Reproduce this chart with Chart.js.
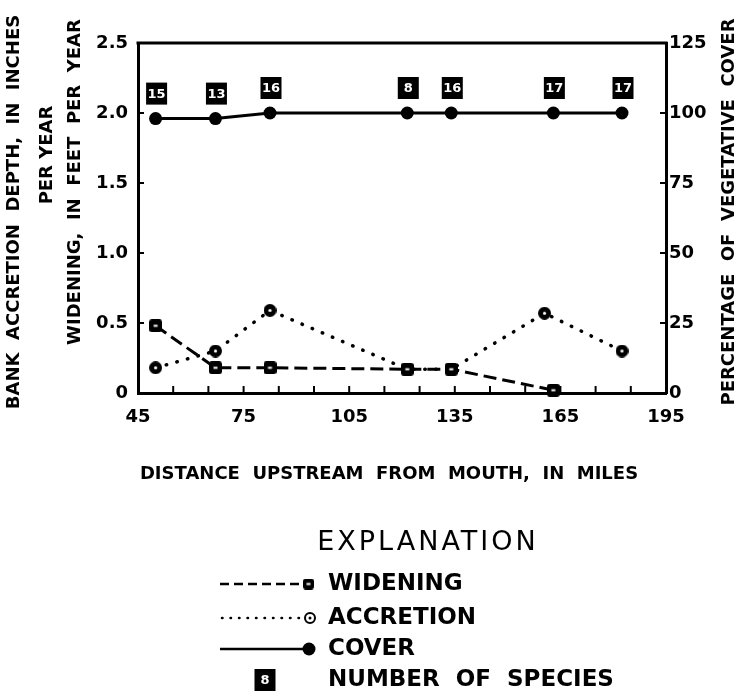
<!DOCTYPE html>
<html>
<head>
<meta charset="utf-8">
<script src="https://cdn.jsdelivr.net/npm/chart.js@4.4.1/dist/chart.umd.min.js"></script>
<style>
  html, body { margin: 0; padding: 0; background: #fff; }
  #wrap { width: 743px; height: 695px; position: relative; }
</style>
</head>
<body>
<div id="wrap"><canvas id="chart"></canvas></div>
<script>
// distance upstream, miles
var miles = [50, 67, 82.5, 121.5, 134, 163, 182.5];
var accretionMiles = [50, 67, 82.5, 121.5, 134, 160.5, 182.5];
var widening = [0.48, 0.18, 0.18, 0.17, 0.17, 0.02, null];
var accretion = [0.18, 0.30, 0.59, 0.17, 0.17, 0.57, 0.30];
var cover = [98, 98, 100, 100, 100, 100, 100];
var species = [15, 13, 16, 8, 16, 17, 17];
var xLabels = [45, 75, 105, 135, 165, 195];

var FONT = "DejaVu Sans";

function pairs(xs, vals) {
  var out = [];
  for (var i = 0; i < xs.length; i++) {
    if (vals[i] !== null) out.push({ x: xs[i], y: vals[i] });
  }
  return out;
}

// marker images
function squareMark(size) {
  var c = document.createElement("canvas");
  c.width = size; c.height = size;
  var g = c.getContext("2d");
  g.fillStyle = "#000";
  g.beginPath();
  g.roundRect(0, 0, size, size, 3);
  g.fill();
  g.fillStyle = "#fff";
  g.fillRect(size / 2 - 2, size / 2 - 1, 4, 2);
  return c;
}
function ringMark(size) {
  var c = document.createElement("canvas");
  c.width = size; c.height = size;
  var g = c.getContext("2d");
  g.fillStyle = "#000";
  g.beginPath();
  g.arc(size / 2, size / 2, size / 2, 0, Math.PI * 2);
  g.fill();
  g.fillStyle = "#fff";
  g.beginPath();
  g.arc(size / 2, size / 2, 1.6, 0, Math.PI * 2);
  g.fill();
  return c;
}
var sqImg = squareMark(13);
var ringImg = ringMark(13);

function vText(ctx, text, x, y) {
  ctx.save();
  ctx.translate(x, y);
  ctx.rotate(-Math.PI / 2);
  ctx.fillText(text, 0, 0);
  ctx.restore();
}

function speciesBox(ctx, n, cx, cy) {
  ctx.fillStyle = "#000";
  ctx.fillRect(cx - 10.5, cy - 11, 21, 22);
  ctx.fillStyle = "#fff";
  ctx.font = "bold 13px " + FONT;
  ctx.textAlign = "center";
  ctx.textBaseline = "middle";
  ctx.fillText(String(n), cx, cy + 1);
}

var extras = {
  id: "extras",
  afterDraw: function (chart) {
    var ctx = chart.ctx;
    var a = chart.chartArea;
    var sx = chart.scales.x, sy = chart.scales.y, sr = chart.scales.y1;
    ctx.save();
    ctx.strokeStyle = "#000";
    ctx.fillStyle = "#000";

    // top frame line
    ctx.lineWidth = 3;
    ctx.beginPath();
    ctx.moveTo(a.left - 1.5, a.top);
    ctx.lineTo(a.right + 1.5, a.top);
    ctx.stroke();

    // inward ticks
    ctx.lineWidth = 2;
    ctx.beginPath();
    sx.ticks.forEach(function (t) {
      if (t.value <= 45 || t.value >= 195) return;
      var px = sx.getPixelForValue(t.value);
      ctx.moveTo(px, a.bottom);
      ctx.lineTo(px, a.bottom - 7);
    });
    sy.ticks.forEach(function (t) {
      if (t.value <= 0 || t.value >= 2.5) return;
      var py = sy.getPixelForValue(t.value);
      ctx.moveTo(a.left, py);
      ctx.lineTo(a.left + 6, py);
    });
    sr.ticks.forEach(function (t) {
      if (t.value <= 0 || t.value >= 125) return;
      var py = sr.getPixelForValue(t.value);
      ctx.moveTo(a.right, py);
      ctx.lineTo(a.right - 6, py);
    });
    ctx.stroke();

    // number of species boxes above the cover points
    for (var i = 0; i < miles.length; i++) {
      var px = sx.getPixelForValue(miles[i]);
      var py = sr.getPixelForValue(cover[i]);
      speciesBox(ctx, species[i], px + 1, py - 25);
    }

    // axis titles
    ctx.fillStyle = "#000";
    ctx.font = "bold 18px " + FONT;
    ctx.textAlign = "center";
    ctx.textBaseline = "middle";
    vText(ctx, "BANK  ACCRETION  DEPTH,  IN  INCHES", 14, 212);
    vText(ctx, "PER YEAR", 47, 155);
    vText(ctx, "WIDENING,  IN  FEET  PER  YEAR", 75, 182);
    vText(ctx, "PERCENTAGE  OF  VEGETATIVE  COVER", 729, 212);
    ctx.fillText("DISTANCE  UPSTREAM  FROM  MOUTH,  IN  MILES", 389, 474);

    // explanation
    ctx.font = "27px " + FONT;
    ctx.letterSpacing = "3px";
    ctx.fillText("EXPLANATION", 428, 543);
    ctx.letterSpacing = "0px";

    ctx.textAlign = "left";
    ctx.font = "bold 23px " + FONT;
    var rows = [584, 618, 649, 680];
    ctx.fillText("WIDENING", 328, rows[0]);
    ctx.fillText("ACCRETION", 328, rows[1]);
    ctx.fillText("COVER", 328, rows[2]);
    ctx.fillText("NUMBER  OF  SPECIES", 328, rows[3]);

    ctx.lineWidth = 2.5;
    ctx.setLineDash([9, 5]);
    ctx.beginPath();
    ctx.moveTo(220, rows[0]);
    ctx.lineTo(304, rows[0]);
    ctx.stroke();
    ctx.drawImage(squareMark(11), 303, rows[0] - 5.5);

    ctx.lineCap = "round";
    ctx.setLineDash([0.5, 8]);
    ctx.beginPath();
    ctx.moveTo(222, rows[1]);
    ctx.lineTo(300, rows[1]);
    ctx.stroke();
    ctx.setLineDash([]);
    ctx.lineCap = "butt";
    ctx.lineWidth = 2;
    ctx.beginPath();
    ctx.arc(310, rows[1], 5, 0, Math.PI * 2);
    ctx.stroke();
    ctx.beginPath();
    ctx.arc(310, rows[1], 1.5, 0, Math.PI * 2);
    ctx.fill();

    ctx.lineWidth = 2.5;
    ctx.beginPath();
    ctx.moveTo(220, rows[2]);
    ctx.lineTo(304, rows[2]);
    ctx.stroke();
    ctx.beginPath();
    ctx.arc(309, rows[2], 6.5, 0, Math.PI * 2);
    ctx.fill();

    speciesBox(ctx, 8, 265, rows[3]);
    ctx.restore();
  }
};

var tickFont = { family: FONT, weight: "bold", size: 18 };

var ctx = document.getElementById("chart").getContext("2d");
new Chart(ctx, {
  type: "line",
  data: {
    datasets: [
      {
        label: "Widening",
        data: pairs(miles, widening),
        yAxisID: "y",
        borderColor: "#000",
        borderWidth: 3,
        borderDash: [13, 6],
        pointStyle: sqImg,
        pointRadius: 6,
        clip: false
      },
      {
        label: "Accretion",
        data: pairs(accretionMiles, accretion),
        yAxisID: "y",
        borderColor: "#000",
        borderWidth: 3.5,
        borderDash: [0.5, 10.5],
        borderCapStyle: "round",
        pointStyle: ringImg,
        pointRadius: 6,
        clip: false
      },
      {
        label: "Cover",
        data: pairs(miles, cover),
        yAxisID: "y1",
        borderColor: "#000",
        backgroundColor: "#000",
        borderWidth: 3,
        pointStyle: "circle",
        pointRadius: 6.5,
        pointBorderWidth: 0,
        pointBackgroundColor: "#000",
        clip: false
      }
    ]
  },
  options: {
    responsive: true,
    maintainAspectRatio: false,
    animation: false,
    layout: { padding: { top: 43, left: 0, right: 0, bottom: 0 } },
    plugins: {
      legend: { display: false },
      tooltip: { enabled: false }
    },
    scales: {
      x: {
        type: "linear",
        min: 45,
        max: 195,
        afterBuildTicks: function (s) {
          var t = [];
          for (var v = 45; v <= 195; v += 10) t.push({ value: v });
          s.ticks = t;
        },
        afterFit: function (s) { s.height = 695 - 393; },
        ticks: {
          autoSkip: false,
          maxRotation: 0,
          padding: 14,
          color: "#000",
          font: tickFont,
          callback: function (v) { return xLabels.indexOf(v) >= 0 ? String(v) : ""; }
        },
        grid: { drawOnChartArea: false, drawTicks: false },
        border: { color: "#000", width: 3 }
      },
      y: {
        position: "left",
        min: 0,
        max: 2.5,
        afterFit: function (s) { s.width = 138; },
        ticks: {
          stepSize: 0.5,
          padding: 10,
          color: "#000",
          font: tickFont,
          callback: function (v) { return v === 0 ? "0" : v.toFixed(1); }
        },
        grid: { drawOnChartArea: false, drawTicks: false },
        border: { color: "#000", width: 3 }
      },
      y1: {
        position: "right",
        min: 0,
        max: 125,
        afterFit: function (s) { s.width = 743 - 666; },
        ticks: {
          stepSize: 25,
          padding: 3,
          color: "#000",
          font: tickFont
        },
        grid: { drawOnChartArea: false, drawTicks: false },
        border: { color: "#000", width: 3 }
      }
    }
  },
  plugins: [extras]
});
</script>
</body>
</html>
